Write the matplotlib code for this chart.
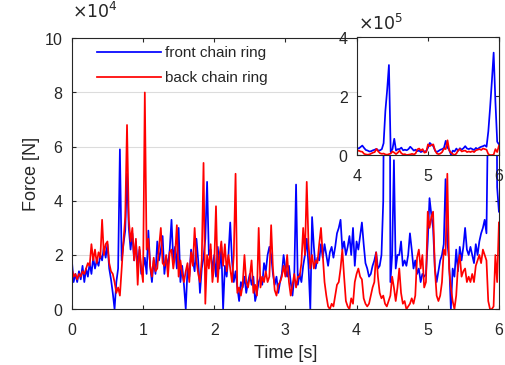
import numpy as np
import matplotlib
matplotlib.use('Agg')
import matplotlib.pyplot as plt

# force readings in units of 1e4 N, sampled every 0.025 s from 0 to 6 s
time = np.linspace(0, 6, 241)

front = [
	1.8, 1.0, 1.3, 1.0, 1.4, 1.1, 1.6, 1.0,
	1.5, 1.2, 1.7, 1.3, 1.9, 1.5, 1.8, 1.6,
	2.0, 1.8, 2.3, 1.9, 2.4, 1.5, 1.1, 0.6,
	0.0, 1.0, 1.5, 5.9, 1.8, 2.4, 2.9, 5.0,
	3.0, 2.2, 2.8, 1.8, 2.5, 1.6, 2.2, 1.3,
	1.5, 1.9, 1.3, 2.9, 1.6, 1.0, 1.8, 1.3,
	2.5, 1.8, 2.2, 2.7, 1.3, 1.9, 1.6, 2.2,
	3.3, 1.8, 2.3, 1.5, 3.0, 1.0, 1.6, 0.9,
	0.0, 1.5, 1.2, 2.2, 1.8, 1.4, 2.6, 1.8,
	0.6, 1.5, 1.9, 2.6, 4.7, 2.0, 2.2, 1.4,
	2.0, 1.2, 2.3, 1.5, 2.3, 0.0, 1.6, 1.2,
	2.0, 3.2, 1.8, 1.0, 1.4, 0.8, 0.3, 1.0,
	0.8, 1.2, 0.6, 1.0, 1.3, 0.9, 1.2, 0.3,
	0.6, 1.0, 1.2, 0.9, 1.7, 1.4, 2.0, 2.3,
	2.0, 1.3, 0.9, 1.2, 0.6, 1.0, 1.3, 2.0,
	1.5, 1.2, 1.6, 1.0, 0.5, 1.2, 4.6, 0.9,
	1.3, 1.0, 1.6, 2.0, 2.6, 1.6, 0.0, 3.4,
	2.3, 1.5, 1.9, 1.8, 2.4, 1.9, 2.4, 2.0,
	1.6, 2.1, 2.3, 1.9, 2.3, 2.8, 3.0, 3.3,
	2.2, 2.5, 2.0, 2.3, 2.7, 2.0, 3.0, 1.6,
	2.5, 2.2, 2.7, 3.2, 2.4, 1.7, 1.5, 1.2,
	1.3, 1.6, 1.8, 2.1, 1.5, 1.6, 2.0, 4.0,
	15.0, 22.0, 30.5, 1.0, 2.0, 5.5, 1.5, 2.0,
	2.0, 2.5, 1.6, 1.8, 1.6, 2.0, 2.8, 2.2,
	1.5, 1.8, 1.3, 1.5, 1.0, 1.3, 1.2, 1.3,
	2.5, 4.1, 3.5, 3.0, 1.5, 1.0, 1.4, 1.8,
	2.0, 2.4, 4.8, 2.5, 1.8, 0.0, 1.5, 1.2,
	2.2, 1.4, 2.3, 1.8, 2.3, 3.0, 2.2, 2.0,
	2.3, 2.0, 1.7, 2.4, 2.0, 2.5, 2.8, 3.0,
	3.3, 2.8, 8.0, 16.0, 25.0, 34.7, 18.0, 4.5,
	3.6,
]

back = [
	1.5, 1.2, 1.3, 1.1, 1.3, 1.2, 1.4, 1.3,
	1.5, 1.7, 1.6, 2.4, 1.8, 2.2, 1.7, 2.1,
	1.9, 3.3, 2.0, 2.4, 2.5, 1.7, 1.4, 1.3,
	1.0, 0.6, 0.8, 0.5, 1.5, 2.5, 3.4, 6.8,
	3.3, 2.5, 3.0, 1.8, 2.6, 0.9, 2.3, 1.5,
	1.0, 8.0, 2.2, 2.6, 1.6, 1.2, 1.9, 1.4,
	1.5, 2.3, 3.0, 1.7, 1.6, 2.0, 1.2, 2.1,
	2.2, 1.5, 2.0, 3.1, 1.2, 1.8, 1.3, 1.0,
	1.4, 1.7, 1.0, 2.1, 1.6, 3.0, 1.8, 1.3,
	1.0, 1.8, 5.4, 0.2, 2.0, 1.5, 2.4, 1.0,
	1.6, 3.8, 1.0, 2.0, 2.5, 1.6, 2.4, 1.4,
	2.0, 1.5, 1.0, 2.0, 5.0, 0.6, 0.8, 0.5,
	0.9, 2.0, 1.0, 0.8, 1.2, 1.8, 0.6, 0.9,
	0.5, 3.0, 0.8, 1.2, 1.0, 1.4, 1.0, 1.2,
	3.1, 1.5, 0.7, 0.5, 0.9, 1.0, 1.2, 1.6,
	1.2, 2.0, 1.0, 0.5, 0.9, 1.3, 0.8, 1.2,
	1.2, 1.7, 3.0, 2.0, 4.7, 2.4, 1.5, 2.0,
	1.5, 1.8, 1.7, 2.4, 3.0, 2.0, 1.0, 0.5,
	0.1, 0.0, 0.2, 0.1, 0.5, 0.9, 1.0, 1.5,
	2.2, 1.2, 0.3, 0.1, 0.0, 0.4, 0.2, 1.0,
	1.3, 1.5, 1.2, 1.1, 0.4, 0.2, 0.1, 0.2,
	0.5, 0.8, 1.0, 2.1, 1.2, 0.6, 0.4, 0.5,
	0.2, 0.1, 0.3, 0.5, 1.2, 0.8, 0.3, 0.8,
	1.5, 0.6, 0.2, 0.3, 0.0, 0.1, 0.2, 0.4,
	0.2, 0.5, 1.9, 2.2, 1.5, 2.0, 0.8, 1.0,
	3.6, 3.0, 3.4, 3.6, 1.5, 0.5, 0.3, 0.5,
	1.0, 2.2, 2.0, 5.0, 1.5, 0.8, 0.3, 0.0,
	0.5, 1.6, 2.0, 1.2, 1.4, 1.5, 1.0, 1.2,
	1.0, 1.3, 1.0, 1.6, 1.8, 2.0, 1.7, 2.2,
	2.0, 1.8, 0.3, 0.0, 0.0, 0.1, 2.0, 1.0,
	3.2,
]

labels = ['front chain ring', 'back chain ring']
main_yticks = [0, 2e4, 4e4, 6e4, 8e4, 10e4]
inset_yticks = [0, 2e5, 4e5]
inset_xticks = [4, 5, 6]

DARK = '#262626'


def style(ax, power):
	ax.tick_params(direction='in', length=3, width=0.8, colors=DARK, labelsize=11.5,
		top=True, right=True, pad=10)
	ax.tick_params(axis='y', pad=6)
	for s in ax.spines.values():
		s.set_color(DARK)
		s.set_linewidth(0.8)
	# fixed exponent like the matlab axes, drawn by hand below
	ax.ticklabel_format(axis='y', style='sci', scilimits=(power, power), useMathText=True)
	ax.yaxis.get_offset_text().set_visible(False)


def main():
	plt.rcParams['font.family'] = ['Liberation Sans', 'DejaVu Sans']
	f = np.array(front) * 1e4
	b = np.array(back) * 1e4

	fig = plt.figure(figsize=(5.06, 3.65), dpi=100)
	ax = fig.add_axes([0.142, 0.153, 0.844, 0.742])
	ax.plot(time, f, color='#0000ff', lw=1.25, label=labels[0])
	ax.plot(time, b, color='#ff0000', lw=1.25, label=labels[1])
	ax.set_xlim(0, 6)
	ax.set_ylim(0, 1e5)
	ax.set_yticks(main_yticks)
	ax.set_xticks(range(7))
	ax.yaxis.grid(True, color='#dcdcdc', lw=0.8)
	ax.set_axisbelow(True)
	style(ax, 4)
	ax.set_xlabel('Time [s]', fontsize=13, color=DARK, labelpad=5)
	ax.set_ylabel('Force [N]', fontsize=13, color=DARK, labelpad=3)
	leg = ax.legend(loc='upper left', bbox_to_anchor=(0.04, 1.0), frameon=False,
		fontsize=11, handlelength=4.2, handletextpad=0.3, labelspacing=0.75,
		borderaxespad=0.1)
	for t in leg.get_texts():
		t.set_color(DARK)
	fig.text(0.142, 0.97, r'$\times10^4$', fontsize=12.5, color=DARK, va='center', ha='left')

	# zoomed view of the last two seconds
	ins = fig.add_axes([0.7055, 0.5753, 0.2806, 0.3233])
	ins.plot(time, f, color='#0000ff', lw=1.25)
	ins.plot(time, b, color='#ff0000', lw=1.25)
	ins.set_xlim(4, 6)
	ins.set_ylim(0, 4e5)
	ins.set_xticks(inset_xticks)
	ins.set_yticks(inset_yticks)
	style(ins, 5)
	fig.text(0.707, 0.938, r'$\times10^5$', fontsize=12.5, color=DARK, va='center', ha='left')

	fig.savefig('out.png', dpi=100)


if __name__ == '__main__':
	main()
